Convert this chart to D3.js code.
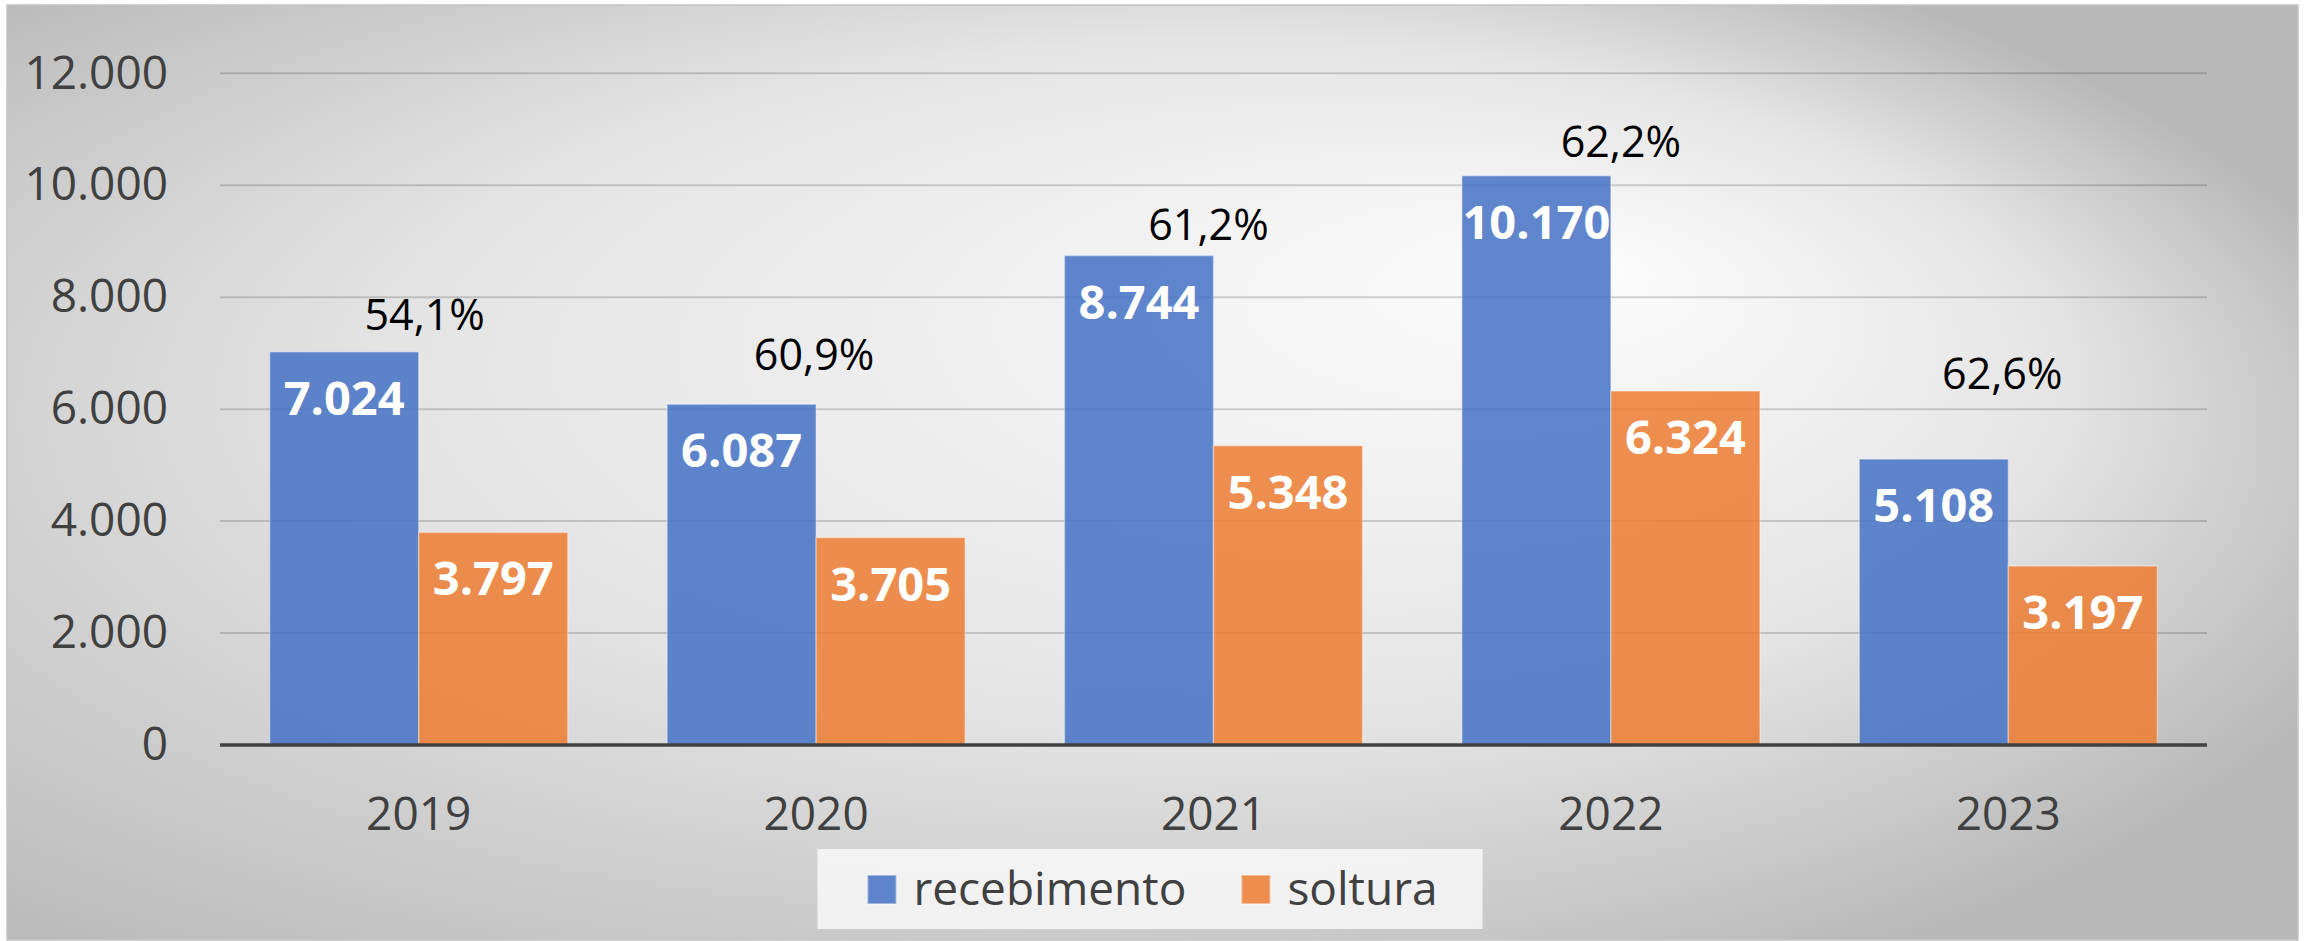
<!DOCTYPE html>
<html>
<head>
<meta charset="utf-8">
<script src="https://cdn.jsdelivr.net/npm/d3@7"></script>
<style>
body { margin: 0; background: #fff; font-family: "Open Sans", sans-serif; }
svg { display: block; }
.axis .domain { display: none; }
.axis .tick text { fill: #404040; font-size: 46px; font-family: "Open Sans", sans-serif; }
.grid line { stroke: #000; stroke-opacity: 0.16; stroke-width: 2px; }
.value-label { fill: #fff; font-weight: bold; font-size: 47px; text-anchor: middle; }
.pct-label { fill: #000; font-size: 43px; text-anchor: middle; }
.legend text { fill: #404040; font-size: 46px; }
</style>
</head>
<body>
<svg id="chart" width="2308" height="941"></svg>
<script>
// data
var years = ["2019", "2020", "2021", "2022", "2023"];
var recebimento = [7024, 6087, 8744, 10170, 5108];
var soltura = [3797, 3705, 5348, 6324, 3197];
var seriesNames = ["recebimento", "soltura"];
var seriesColors = ["#4472c4", "#ed7d31"];
var yTicks = [0, 2000, 4000, 6000, 8000, 10000, 12000];

// percent labels were dragged around by hand in the original
var pctNudge = [[6, 0], [-2, -12], [-5, 6], [10, 3], [-6, -48]];

var rows = years.map(function(y, i) {
    return { year: y, recebimento: recebimento[i], soltura: soltura[i] };
});

var pt = d3.formatLocale({ decimal: ",", thousands: ".", grouping: [3], currency: ["R$", ""] });
var fmtNum = pt.format(",d");
var fmtPct = pt.format(".1%");

var svg = d3.select("#chart");

// background panel with the office-like radial gradient
var defs = svg.append("defs");
var grad = defs.append("radialGradient")
    .attr("id", "bg")
    .attr("cx", 0.4).attr("cy", 0.5).attr("r", 0.66)
    .attr("fx", 0.7).attr("fy", 0.28);
grad.append("stop").attr("offset", "0%").attr("stop-color", "#fcfcfc");
grad.append("stop").attr("offset", "55%").attr("stop-color", "#e4e4e4");
grad.append("stop").attr("offset", "100%").attr("stop-color", "#b8b8b8");

svg.append("rect")
    .attr("x", 7).attr("y", 5)
    .attr("width", 2291).attr("height", 935)
    .attr("fill", "url(#bg)")
    .attr("stroke", "#c4c4c4")
    .attr("stroke-width", 1.5);

var plot = { left: 220, right: 2207, top: 73.3, bottom: 745 };

var x0 = d3.scaleBand()
    .domain(years)
    .range([plot.left, plot.right])
    .paddingInner(0.25)
    .paddingOuter(0.125);

var x1 = d3.scaleBand()
    .domain(seriesNames)
    .range([0, x0.bandwidth()]);

var y = d3.scaleLinear()
    .domain([0, 12000])
    .range([plot.bottom, plot.top]);

var color = d3.scaleOrdinal().domain(seriesNames).range(seriesColors);

// gridlines
svg.append("g").attr("class", "grid")
    .selectAll("line")
    .data(yTicks.filter(function(d) { return d > 0; }))
    .enter().append("line")
    .attr("x1", plot.left).attr("x2", plot.right)
    .attr("y1", function(d) { return y(d); })
    .attr("y2", function(d) { return y(d); });

// y axis labels
svg.append("g").attr("class", "axis")
    .attr("transform", "translate(" + plot.left + ",0)")
    .call(d3.axisLeft(y).tickValues(yTicks).tickSize(0).tickPadding(52).tickFormat(fmtNum));

// bars
var groups = svg.append("g")
    .selectAll("g")
    .data(rows)
    .enter().append("g")
    .attr("transform", function(d) { return "translate(" + x0(d.year) + ",0)"; });

groups.selectAll("rect")
    .data(function(d) { return seriesNames.map(function(k) { return { key: k, value: d[k] }; }); })
    .enter().append("rect")
    .attr("x", function(d) { return x1(d.key); })
    .attr("y", function(d) { return y(d.value); })
    .attr("width", x1.bandwidth())
    .attr("height", function(d) { return y(0) - y(d.value); })
    .attr("fill", function(d) { return color(d.key); })
    .attr("fill-opacity", 0.85)
    .attr("stroke", "#fff")
    .attr("stroke-opacity", 0.35)
    .attr("stroke-width", 1.5);

groups.selectAll("text.value-label")
    .data(function(d) { return seriesNames.map(function(k) { return { key: k, value: d[k] }; }); })
    .enter().append("text")
    .attr("class", "value-label")
    .attr("x", function(d) { return x1(d.key) + x1.bandwidth() / 2; })
    .attr("y", function(d) { return y(d.value) + 63; })
    .text(function(d) { return fmtNum(d.value); });

// percentage soltura / recebimento
groups.append("text")
    .attr("class", "pct-label")
    .attr("x", function(d, i) { return x0.bandwidth() / 2 + pctNudge[i][0]; })
    .attr("y", function(d, i) { return y(d.recebimento) - 22 + pctNudge[i][1]; })
    .text(function(d) { return fmtPct(d.soltura / d.recebimento); });

// x axis
svg.append("line")
    .attr("x1", plot.left).attr("x2", plot.right)
    .attr("y1", y(0)).attr("y2", y(0))
    .attr("stroke", "#404040")
    .attr("stroke-width", 3.5);

svg.append("g").attr("class", "axis")
    .attr("transform", "translate(0," + y(0) + ")")
    .call(d3.axisBottom(x0).tickSize(0).tickPadding(52));

// legend
var legend = svg.append("g").attr("class", "legend");
var legendBg = legend.append("rect")
    .attr("y", 849).attr("height", 80)
    .attr("fill", "#fff").attr("fill-opacity", 0.72);
var items = legend.append("g");
var item = items.selectAll("g")
    .data(seriesNames)
    .enter().append("g");
item.append("rect")
    .attr("y", 875).attr("width", 29).attr("height", 29)
    .attr("fill", function(d) { return color(d); })
    .attr("fill-opacity", 0.85)
    .attr("stroke", "#fff").attr("stroke-opacity", 0.4).attr("stroke-width", 2);
item.append("text")
    .attr("x", 46).attr("y", 905)
    .text(function(d) { return d; });

var pos = 0;
item.each(function() {
    var w = d3.select(this).select("text").node().getComputedTextLength();
    d3.select(this).attr("transform", "translate(" + pos + ",0)");
    pos += 46 + w + 55;
});
var total = pos - 55;
var start = (7 + 2298) / 2 - total / 2;
items.attr("transform", "translate(" + start + ",0)");
legendBg.attr("x", start - 50).attr("width", total + 95);
</script>
</body>
</html>
